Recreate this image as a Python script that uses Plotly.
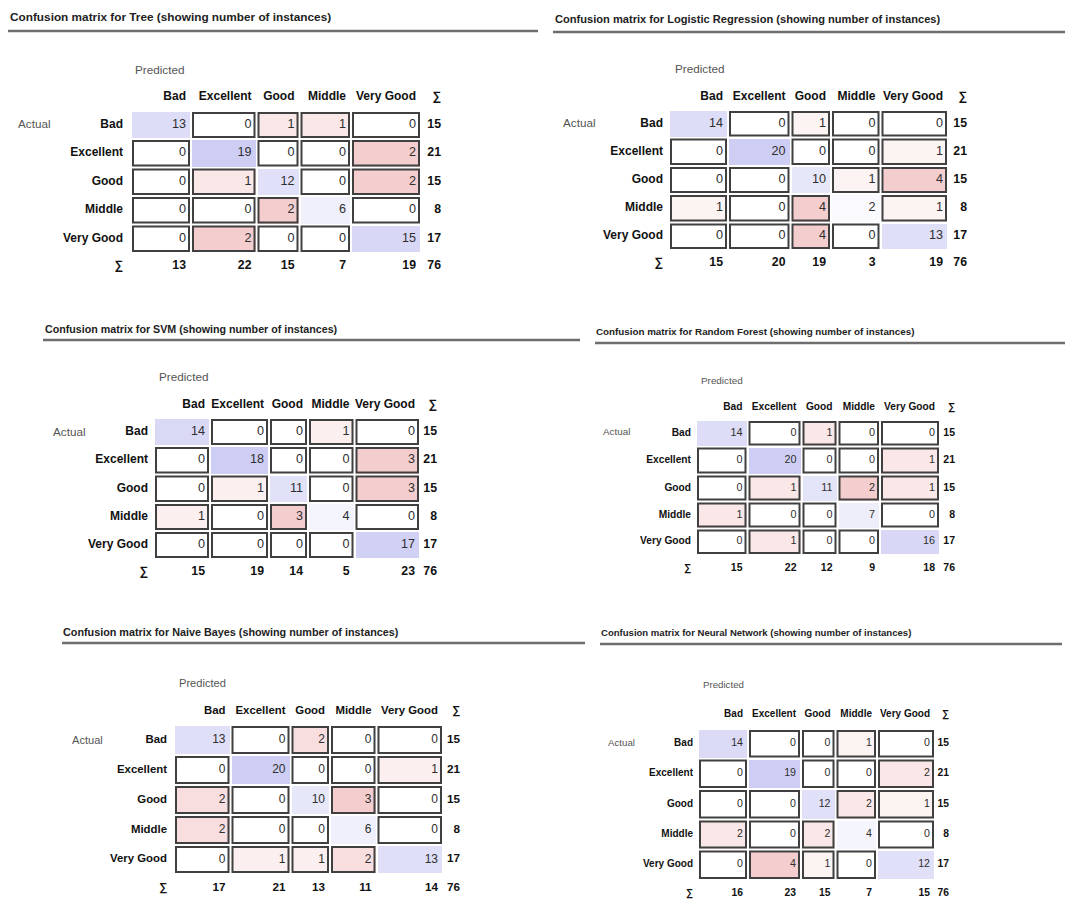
import plotly.graph_objects as go

# ---------------- data ----------------
classes = ["Bad", "Excellent", "Good", "Middle", "Very Good"]
models = ["Tree", "Logistic Regression", "SVM", "Random Forest", "Naive Bayes", "Neural Network"]

cm_tree = [[13, 0, 1, 1, 0], [0, 19, 0, 0, 2], [0, 1, 12, 0, 2], [0, 0, 2, 6, 0], [0, 2, 0, 0, 15]]
cm_lr = [[14, 0, 1, 0, 0], [0, 20, 0, 0, 1], [0, 0, 10, 1, 4], [1, 0, 4, 2, 1], [0, 0, 4, 0, 13]]
cm_svm = [[14, 0, 0, 1, 0], [0, 18, 0, 0, 3], [0, 1, 11, 0, 3], [1, 0, 3, 4, 0], [0, 0, 0, 0, 17]]
cm_rf = [[14, 0, 1, 0, 0], [0, 20, 0, 0, 1], [0, 1, 11, 2, 1], [1, 0, 0, 7, 0], [0, 1, 0, 0, 16]]
cm_nb = [[13, 0, 2, 0, 0], [0, 20, 0, 0, 1], [2, 0, 10, 3, 0], [2, 0, 0, 6, 0], [0, 1, 1, 2, 13]]
cm_nn = [[14, 0, 0, 1, 0], [0, 19, 0, 0, 2], [0, 0, 12, 2, 1], [2, 0, 2, 4, 0], [0, 4, 1, 0, 12]]
matrices = [cm_tree, cm_lr, cm_svm, cm_rf, cm_nb, cm_nn]

# ---------------- layout / style (window pixel coordinates) ----------------
WIN_W, WIN_H = 1073, 904
BODY = 8  # default page margin around the plot div
FONT = "Liberation Sans, Arial, sans-serif"
panels = [
    dict(cx=[131, 191, 256.5, 299.5, 351, 421], ry=[111, 139, 167.5, 196, 224.5, 253],
         sum_x=441, sum_y=266, head_y=97, pred=(135, 71), act=(18, 125), lab_x=123,
         title=(10, 18), rule=(8, 538, 31), fs=12, tfs=11.8),
    dict(cx=[669, 728, 790.5, 831, 880.5, 948], ry=[110, 137.5, 166, 194, 222.5, 250],
         sum_x=967, sum_y=263, head_y=97, pred=(675, 70), act=(563, 124), lab_x=663,
         title=(555, 20), rule=(553, 1073, 32), fs=12, tfs=11.1),
    dict(cx=[154, 210, 269, 308, 354.5, 420], ry=[418, 446, 474.5, 503, 531, 559],
         sum_x=437, sum_y=572, head_y=405, pred=(159, 378), act=(53, 433), lab_x=148,
         title=(45, 330), rule=(43, 580, 340), fs=12, tfs=10.7),
    dict(cx=[696, 747.5, 801.5, 837.5, 880, 940], ry=[420, 446.5, 474.5, 501.5, 528.5, 555],
         sum_x=955, sum_y=568, head_y=407, pred=(701, 382), act=(603, 433), lab_x=691,
         title=(596, 333), rule=(595, 1073, 343), fs=10.2, tfs=9.8),
    dict(cx=[174, 230.5, 290.5, 330, 376.5, 443], ry=[725, 755, 785, 815, 845, 874],
         sum_x=460, sum_y=888, head_y=711, pred=(179, 684), act=(72, 741), lab_x=167,
         title=(63, 633), rule=(62, 585, 643), fs=11.4, tfs=10.8),
    dict(cx=[698, 748, 801, 835.5, 877, 935], ry=[729, 758.5, 789, 819.5, 849.5, 880],
         sum_x=949, sum_y=893, head_y=714, pred=(703, 686), act=(608, 744), lab_x=693,
         title=(601, 634), rule=(600, 1062, 644), fs=10, tfs=9.55),
]
PAD = 4
BLUE = "rgb(206,206,244)"
RED = "rgb(244,206,206)"
BORDER = "#404040"
NUM_COLOR = "#2e2e2e"
LAB_COLOR = "#111111"
SOFT_COLOR = "#555555"

fig = go.Figure()
shapes = []

for m, cm, p in zip(models, matrices, panels):
    n = len(classes)
    diag_max = max(cm[i][i] for i in range(n))
    off_max = max(cm[i][j] for i in range(n) for j in range(n) if i != j)
    z = []
    for i in range(n):
        row = []
        for j in range(n):
            if i == j:
                row.append(-cm[i][j] / diag_max if diag_max else 0)
            else:
                row.append(cm[i][j] / off_max if off_max else 0)
        z.append(row)
    fig.add_trace(go.Heatmap(
        z=z, x=p["cx"], y=p["ry"], zmin=-1, zmax=1,
        colorscale=[[0, BLUE], [0.5, "white"], [1, RED]],
        showscale=False, xgap=2, ygap=2, hoverinfo="skip"))

    cx, ry, fs = p["cx"], p["ry"], p["fs"]
    rc = [(ry[i] + ry[i + 1]) / 2 for i in range(n)]
    right = [cx[j + 1] - 1 - PAD for j in range(n)]

    # off-diagonal borders
    for i in range(n):
        for j in range(n):
            if i != j:
                shapes.append(dict(type="rect", xref="x", yref="y",
                                   x0=cx[j] + 2, x1=cx[j + 1] - 2, y0=ry[i] + 2, y1=ry[i + 1] - 2,
                                   line=dict(color=BORDER, width=2), fillcolor="rgba(0,0,0,0)"))

    # cell numbers
    xs, ys, ts = [], [], []
    for i in range(n):
        for j in range(n):
            xs.append(right[j]); ys.append(rc[i]); ts.append(str(cm[i][j]))
    fig.add_trace(go.Scatter(x=xs, y=ys, text=ts, mode="text", textposition="middle left",
                             textfont=dict(family=FONT, size=fs + 0.6, color=NUM_COLOR), hoverinfo="skip"))

    # sums
    row_sums = [sum(r) for r in cm]
    col_sums = [sum(cm[i][j] for i in range(n)) for j in range(n)]
    total = sum(row_sums)
    xs = [p["sum_x"]] * n + right + [p["sum_x"]]
    ys = rc + [p["sum_y"]] * n + [p["sum_y"]]
    ts = ["<b>%d</b>" % v for v in row_sums + col_sums + [total]]
    fig.add_trace(go.Scatter(x=xs, y=ys, text=ts, mode="text", textposition="middle left",
                             textfont=dict(family=FONT, size=fs + 0.3, color=LAB_COLOR), hoverinfo="skip"))

    # headers + row labels
    xs = right + [p["sum_x"]] + [p["lab_x"]] * n + [p["lab_x"]]
    ys = [p["head_y"]] * (n + 1) + rc + [p["sum_y"]]
    ts = ["<b>%s</b>" % c for c in classes] + ["<b>∑</b>"] + ["<b>%s</b>" % c for c in classes] + ["<b>∑</b>"]
    fig.add_trace(go.Scatter(x=xs, y=ys, text=ts, mode="text", textposition="middle left",
                             textfont=dict(family=FONT, size=fs, color=LAB_COLOR), hoverinfo="skip"))

    # Predicted / Actual
    fig.add_trace(go.Scatter(x=[p["pred"][0], p["act"][0]], y=[p["pred"][1], p["act"][1]],
                             text=["Predicted", "Actual"], mode="text", textposition="middle right",
                             textfont=dict(family=FONT, size=fs - 0.3, color=SOFT_COLOR), hoverinfo="skip"))

    # title
    fig.add_trace(go.Scatter(x=[p["title"][0]], y=[p["title"][1]],
                             text=["<b>Confusion matrix for %s (showing number of instances)</b>" % m],
                             mode="text", textposition="middle right",
                             textfont=dict(family=FONT, size=p["tfs"], color="#222222"), hoverinfo="skip"))
    x0, x1, yy = p["rule"]
    shapes.append(dict(type="line", xref="x", yref="y", x0=x0, x1=x1, y0=yy, y1=yy,
                       line=dict(color="#6e6e6e", width=2.5)))

fig.update_layout(
    width=WIN_W - BODY, height=WIN_H - BODY, margin=dict(l=0, r=0, t=0, b=0),
    paper_bgcolor="white", plot_bgcolor="white", showlegend=False,
    xaxis=dict(range=[BODY, WIN_W], visible=False, fixedrange=True),
    yaxis=dict(range=[WIN_H, BODY], visible=False, fixedrange=True),
    shapes=shapes,
)
fig.write_html("out.html")
